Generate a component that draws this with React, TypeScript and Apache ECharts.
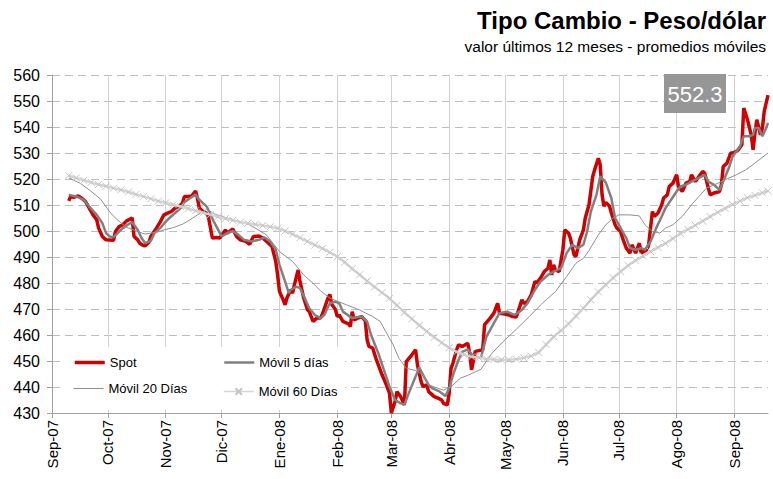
import React, { useEffect, useRef } from 'react';
import * as echarts from 'echarts';

// x values = days since 2007-09-01
const monthDays = [0, 30, 61, 91, 122, 153, 182, 213, 243, 274, 304, 335, 366];
const monthLabels = ['Sep-07', 'Oct-07', 'Nov-07', 'Dic-07', 'Ene-08', 'Feb-08', 'Mar-08', 'Abr-08', 'May-08', 'Jun-08', 'Jul-08', 'Ago-08', 'Sep-08'];
const lastDay = 384;

const seriesNames = ['Spot', 'Móvil 5 días', 'Móvil 20 Días', 'Móvil 60 Días'];

const spotSeries = [
  [9, 511.6], [10, 513.3], [12, 513.0], [14, 513.5], [16, 512.6], [18, 511.3], [20, 508.8], [22, 506.2], [24, 504.3], [25, 501.1],
  [27, 497.9], [29, 496.6], [33, 496.4], [34, 499.8], [36, 501.7], [38, 502.4], [40, 503.9], [43, 505.0], [44, 497.9], [46, 496.6],
  [47, 495.3], [49, 494.4], [50, 494.3], [52, 495.7], [53, 497.9], [56, 501.1], [58, 503.4], [60, 506.2], [62, 506.9], [64, 507.5],
  [66, 508.8], [68, 509.4], [70, 510.7], [71, 513.3], [73, 513.3], [75, 513.5], [77, 515.4], [78, 512.6], [79, 508.8], [81, 507.5],
  [83, 506.9], [84, 505.0], [86, 497.3], [88, 497.5], [90, 497.3], [93, 500.4], [94, 499.2], [97, 500.8], [99, 497.9], [101, 496.6],
  [104, 496.0], [106, 494.9], [108, 497.9], [111, 498.1], [113, 497.3], [116, 495.4], [118, 494.0], [120, 488.3], [121, 483.1], [122, 476.7],
  [124, 473.5], [125, 471.6], [126, 474.2], [128, 477.4], [129, 476.1], [130, 479.3], [132, 485.0], [133, 480.6], [135, 474.2], [137, 469.7],
  [138, 469.0], [140, 465.2], [142, 466.5], [144, 466.5], [145, 468.0], [148, 474.2], [149, 475.6], [150, 471.8], [152, 469.8], [153, 467.1],
  [154, 467.7], [156, 465.2], [159, 464.3], [160, 463.3], [161, 469.0], [162, 465.8], [164, 466.5], [166, 467.1], [168, 465.5], [169, 458.2],
  [170, 455.6], [172, 455.0], [174, 450.4], [177, 444.7], [179, 441.4], [181, 437.6], [182, 430.0], [184, 434.4], [185, 438.2], [187, 436.3],
  [189, 433.1], [190, 449.8], [193, 452.4], [195, 454.3], [196, 448.5], [198, 442.0], [199, 440.1], [201, 440.8], [202, 438.2], [205, 436.3],
  [207, 435.7], [209, 435.0], [210, 433.7], [212, 433.1], [213, 437.6], [214, 447.2], [215, 449.1], [217, 454.3], [218, 456.2], [220, 455.6],
  [223, 456.8], [224, 453.0], [225, 446.6], [227, 453.7], [229, 454.0], [231, 454.3], [232, 464.0], [235, 466.5], [237, 468.4], [239, 472.2],
  [240, 468.4], [243, 468.1], [245, 467.7], [247, 467.1], [249, 466.9], [252, 473.5], [253, 472.2], [255, 472.8], [257, 475.4], [259, 480.6],
  [260, 480.0], [262, 481.9], [264, 484.4], [266, 485.7], [267, 488.9], [268, 483.1], [269, 487.0], [270, 485.0], [272, 484.4], [274, 492.8],
  [275, 500.4], [277, 499.2], [278, 497.3], [280, 490.8], [281, 490.2], [283, 496.6], [285, 500.4], [286, 505.0], [288, 510.1], [290, 521.0],
  [291, 523.5], [293, 528.0], [294, 525.5], [295, 514.0], [296, 509.5], [297, 511.0], [299, 509.5], [300, 506.9], [302, 502.4], [303, 501.1],
  [305, 499.8], [306, 497.3], [308, 493.4], [310, 491.5], [311, 494.7], [313, 491.5], [315, 495.3], [316, 491.5], [319, 492.8], [320, 494.7],
  [322, 507.5], [323, 505.6], [325, 506.9], [327, 510.1], [328, 512.7], [330, 513.9], [331, 517.1], [333, 518.4], [335, 521.6], [336, 517.1],
  [338, 515.2], [340, 518.4], [342, 519.0], [343, 521.6], [345, 519.0], [347, 521.0], [349, 522.9], [350, 522.3], [352, 516.5], [353, 513.9],
  [355, 514.6], [358, 515.2], [359, 517.8], [360, 524.8], [362, 526.1], [364, 530.0], [365, 530.0], [367, 530.6], [368, 531.2], [370, 533.2],
  [371, 547.3], [373, 542.8], [375, 537.0], [376, 531.2], [377, 537.7], [378, 542.8], [380, 537.0], [381, 539.6], [382, 546.1], [384, 552.3],
];

const ma5Series = [
  [9, 513.9], [13, 513.3], [17, 512.0], [20, 509.4], [24, 506.2], [27, 503.0], [29, 499.2], [31, 497.9], [33, 497.6], [36, 499.8],
  [38, 501.1], [41, 502.6], [43, 503.4], [46, 500.4], [48, 497.3], [50, 495.3], [53, 496.2], [55, 499.2], [58, 501.1], [61, 503.6],
  [63, 505.0], [66, 506.9], [69, 508.8], [71, 511.1], [74, 512.6], [77, 514.0], [79, 512.0], [83, 509.4], [87, 503.3], [91, 497.9],
  [94, 499.2], [97, 500.0], [100, 498.5], [103, 496.6], [107, 496.0], [111, 496.6], [114, 497.5], [117, 496.0], [120, 492.8], [122, 487.0],
  [125, 480.6], [127, 476.1], [128, 477.4], [131, 478.6], [133, 478.0], [136, 473.5], [138, 470.3], [141, 467.7], [144, 466.5], [146, 467.7],
  [149, 472.2], [152, 472.8], [154, 472.2], [156, 469.0], [161, 466.5], [166, 467.1], [169, 465.2], [171, 460.3], [175, 453.0], [178, 446.6],
  [181, 440.1], [184, 435.0], [187, 433.7], [189, 433.3], [192, 438.8], [195, 444.0], [197, 447.5], [199, 444.7], [202, 440.8], [204, 439.5],
  [208, 438.2], [211, 436.5], [213, 439.5], [215, 444.5], [218, 450.4], [220, 453.5], [223, 454.5], [226, 451.7], [230, 451.1], [233, 459.4],
  [236, 463.3], [240, 468.4], [244, 469.0], [248, 467.7], [252, 469.6], [255, 472.2], [259, 477.4], [262, 480.6], [266, 483.1], [269, 484.4],
  [273, 485.7], [276, 491.5], [279, 494.7], [282, 493.4], [285, 494.7], [287, 499.8], [289, 507.5], [292, 513.9], [294, 521.0], [297, 518.7],
  [300, 512.6], [302, 505.0], [305, 501.1], [308, 497.3], [310, 493.4], [313, 492.8], [316, 493.4], [318, 492.8], [321, 496.0], [324, 501.1],
  [327, 505.6], [329, 508.8], [332, 512.0], [335, 515.2], [337, 517.1], [340, 517.8], [343, 519.0], [347, 520.4], [350, 521.6], [352, 519.0],
  [355, 517.8], [358, 515.8], [360, 519.0], [363, 524.2], [365, 528.7], [367, 530.6], [369, 532.5], [371, 536.4], [374, 536.4], [376, 537.0],
  [377, 539.6], [379, 539.6], [381, 536.4], [383, 539.6], [384, 541.6],
];

const ma20Series = [
  [9, 520.4], [15, 518.4], [20, 515.8], [26, 512.3], [31, 507.3], [35, 504.3], [40, 501.4], [46, 499.8], [50, 498.8], [53, 499.2],
  [56, 499.5], [60, 500.4], [65, 501.3], [70, 502.6], [74, 504.3], [78, 506.2], [81, 507.5], [83, 508.3], [88, 506.3], [97, 504.3],
  [106, 502.4], [115, 498.5], [122, 492.1], [129, 488.3], [135, 483.1], [140, 479.9], [144, 477.0], [149, 474.2], [153, 473.0], [158, 471.6],
  [165, 469.6], [172, 467.1], [176, 465.2], [179, 461.3], [183, 456.2], [186, 451.1], [190, 447.2], [195, 446.3], [199, 444.7], [202, 440.8],
  [207, 439.5], [210, 438.8], [214, 440.1], [219, 443.4], [223, 444.5], [230, 446.8], [236, 453.0], [242, 457.5], [249, 462.2], [256, 467.1],
  [263, 472.2], [270, 476.7], [276, 482.5], [281, 487.6], [285, 489.5], [288, 492.5], [293, 498.5], [297, 502.4], [301, 505.0], [304, 506.2],
  [310, 506.2], [315, 505.8], [318, 502.4], [322, 499.8], [326, 499.2], [329, 501.1], [333, 502.4], [338, 505.6], [343, 510.1], [347, 513.3],
  [351, 516.5], [356, 518.0], [361, 519.7], [367, 521.6], [372, 523.5], [377, 526.1], [384, 530.0],
];

const ma60Series = [
  [9, 521.3], [13, 520.4], [17, 519.5], [21, 518.7], [25, 517.9], [29, 517.2], [33, 516.5], [37, 515.8], [41, 515.0], [45, 514.1],
  [49, 513.3], [53, 512.4], [57, 511.5], [61, 510.8], [65, 510.1], [69, 509.4], [73, 508.6], [77, 507.8], [81, 507.0], [85, 506.3],
  [89, 505.5], [93, 504.8], [97, 504.1], [101, 503.4], [105, 503.0], [109, 502.6], [113, 502.1], [117, 501.6], [121, 501.1], [125, 500.0],
  [129, 498.8], [133, 497.4], [137, 496.0], [141, 494.6], [145, 493.3], [149, 491.8], [153, 490.1], [157, 488.0], [161, 485.5], [165, 483.2],
  [169, 480.8], [173, 478.5], [177, 476.3], [181, 474.1], [185, 471.4], [189, 468.7], [193, 466.2], [197, 463.7], [201, 461.4], [205, 459.1],
  [209, 457.0], [213, 455.1], [217, 453.5], [221, 452.4], [225, 451.6], [229, 451.2], [233, 450.8], [237, 450.6], [241, 450.5], [245, 450.5],
  [249, 450.7], [253, 451.2], [257, 451.9], [261, 453.3], [265, 456.3], [269, 459.3], [273, 461.7], [277, 464.3], [281, 467.3], [285, 470.3],
  [289, 473.5], [293, 476.6], [297, 479.3], [301, 482.0], [305, 484.4], [309, 486.7], [313, 488.7], [317, 490.4], [321, 492.1], [325, 493.7],
  [329, 495.2], [333, 497.1], [337, 499.0], [341, 500.6], [345, 502.2], [349, 503.8], [353, 505.5], [357, 507.2], [361, 508.7], [365, 510.2],
  [369, 511.5], [373, 512.8], [377, 513.7], [381, 514.7], [384, 515.4],
];

const yMin = 430;
const yMax = 560;
const yStep = 10;

const FONT = '"Liberation Sans", Arial, Helvetica, sans-serif';

export default function App() {
  const ref = useRef<HTMLDivElement>(null);

  useEffect(() => {
    if (!ref.current) return;
    const chart = echarts.init(ref.current, null, { renderer: 'svg' });
    const lastSpot = spotSeries[spotSeries.length - 1][1];
    const legendText = { fontSize: 13, color: '#000', fontFamily: FONT };
    const legendBase = {
      orient: 'horizontal',
      itemWidth: 30,
      itemHeight: 14,
      padding: 0,
      selectedMode: false,
      textStyle: legendText,
    };
    const noSymbol = { opacity: 0 };

    chart.setOption({
      animation: false,
      backgroundColor: '#ffffff',
      textStyle: { fontFamily: FONT },
      title: [
        {
          text: 'Tipo Cambio - Peso/dólar',
          right: 7,
          top: 8,
          padding: 0,
          textStyle: { fontSize: 24, fontWeight: 'bold', color: '#000', fontFamily: FONT },
        },
        {
          text: 'valor últimos 12 meses - promedios móviles',
          right: 7,
          top: 38,
          padding: 0,
          textStyle: { fontSize: 15.5, fontWeight: 'normal', color: '#000', fontFamily: FONT },
        },
      ],
      legend: [
        { ...legendBase, itemStyle: noSymbol, lineStyle: { width: 3.5 }, data: [seriesNames[0]], left: 73, top: 356 },
        { ...legendBase, itemStyle: noSymbol, lineStyle: { width: 2.5 }, data: [seriesNames[1]], left: 223, top: 356 },
        { ...legendBase, itemStyle: noSymbol, lineStyle: { width: 1 }, data: [seriesNames[2]], left: 73, top: 382 },
        { ...legendBase, itemHeight: 8, lineStyle: { width: 1.5 }, data: [seriesNames[3]], left: 223, top: 385 },
      ],
      grid: {
        left: 52,
        right: 5,
        top: 75,
        bottom: 66,
        containLabel: false,
        outerBoundsMode: 'none',
      },
      xAxis: {
        type: 'value',
        min: 0,
        max: lastDay,
        axisLine: { show: true, lineStyle: { color: '#a0a0a0', width: 1 } },
        axisTick: { show: true, length: 5, lineStyle: { color: '#a0a0a0' }, customValues: monthDays },
        axisLabel: {
          customValues: monthDays,
          rotate: 90,
          margin: 7,
          fontSize: 15,
          color: '#000',
          fontFamily: FONT,
          formatter: (v: number) => {
            const i = monthDays.indexOf(Math.round(v));
            return i >= 0 ? monthLabels[i] : '';
          },
        },
        splitLine: { show: true, lineStyle: { color: '#d0d0d0', width: 1, type: 'solid' } },
      },
      yAxis: {
        type: 'value',
        min: yMin,
        max: yMax,
        interval: yStep,
        axisLine: { show: true, lineStyle: { color: '#a0a0a0', width: 1 } },
        axisTick: { show: true, length: 5, lineStyle: { color: '#a0a0a0' } },
        axisLabel: { fontSize: 16, color: '#000', margin: 12, fontFamily: FONT },
        splitLine: { show: true, lineStyle: { color: '#bdbdbd', width: 1, type: [8, 5] } },
      },
      graphic: [
        {
          type: 'rect',
          z: 1,
          silent: true,
          shape: { x: 60, y: 347, width: 285, height: 63 },
          style: { fill: '#ffffff' },
        },
        {
          type: 'rect',
          z: 10,
          silent: true,
          shape: { x: 664, y: 74, width: 62, height: 39 },
          style: { fill: '#969696' },
        },
        {
          type: 'text',
          z: 11,
          silent: true,
          x: 695,
          y: 94,
          style: {
            text: lastSpot.toFixed(1),
            fill: '#ffffff',
            fontSize: 22,
            fontFamily: FONT,
            textAlign: 'center',
            textVerticalAlign: 'middle',
          },
        },
      ],
      series: [
        {
          name: seriesNames[0],
          type: 'line',
          data: spotSeries,
          symbol: 'none',
          lineStyle: { color: '#d00000', width: 3.5 },
          itemStyle: { color: '#d00000' },
          z: 2,
        },
        {
          name: seriesNames[1],
          type: 'line',
          data: ma5Series,
          symbol: 'none',
          lineStyle: { color: '#808080', width: 2.5 },
          itemStyle: { color: '#808080' },
          z: 3,
        },
        {
          name: seriesNames[2],
          type: 'line',
          data: ma20Series,
          symbol: 'none',
          lineStyle: { color: '#8f8f8f', width: 1 },
          itemStyle: { color: '#8f8f8f' },
          z: 3,
        },
        {
          name: seriesNames[3],
          type: 'line',
          data: ma60Series,
          symbol: 'path://M0,0L10,10M10,0L0,10',
          symbolSize: 7,
          showSymbol: true,
          showAllSymbol: true,
          lineStyle: { color: '#d4d4d4', width: 2.5 },
          itemStyle: { color: 'rgba(0,0,0,0)', borderColor: '#c4c4c4', borderWidth: 1 },
          z: 4,
        },
      ],
    });

    return () => chart.dispose();
  }, []);

  return (
    <div
      ref={ref}
      style={{ position: 'fixed', left: 0, top: 0, width: 773, height: 479, background: '#fff' }}
    />
  );
}
